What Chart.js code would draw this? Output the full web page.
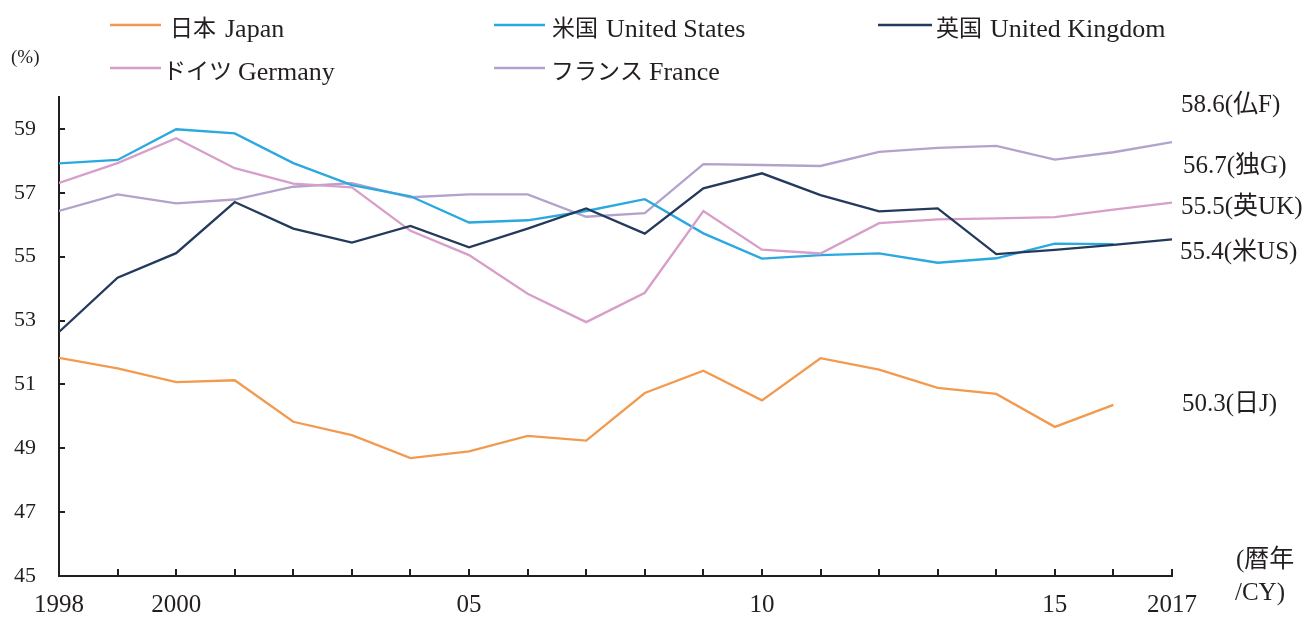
<!DOCTYPE html>
<html><head><meta charset="utf-8">
<script src="https://cdn.jsdelivr.net/npm/chart.js@4/dist/chart.umd.min.js"></script>
<style>html,body{margin:0;padding:0;background:#fff}#wrap{width:1312px;height:619px;position:relative}canvas{display:block}</style>
</head><body><div id="wrap"><canvas id="c"></canvas></div>
<script>
const years = [1998,1999,2000,2001,2002,2003,2004,2005,2006,2007,2008,2009,2010,2011,2012,2013,2014,2015,2016,2017];
const japan = [51.83,51.50,51.07,51.13,49.83,49.41,48.69,48.90,49.39,49.24,50.73,51.43,50.50,51.82,51.46,50.89,50.70,49.67,50.36,null];
const unitedStates = [57.92,58.03,58.99,58.86,57.93,57.24,56.89,56.07,56.14,56.43,56.80,55.73,54.94,55.05,55.10,54.81,54.95,55.41,55.39,null];
const unitedKingdom = [52.64,54.34,55.11,56.71,55.88,55.44,55.96,55.29,55.88,56.51,55.72,57.14,57.61,56.93,56.42,56.51,55.08,55.21,55.37,55.54];
const germany = [57.31,57.93,58.71,57.77,57.29,57.17,55.81,55.05,53.84,52.95,53.87,56.43,55.22,55.10,56.05,56.17,56.20,56.24,56.47,56.69];
const france = [56.43,56.95,56.67,56.79,57.19,57.30,56.86,56.95,56.95,56.25,56.36,57.90,57.87,57.84,58.28,58.41,58.47,58.04,58.27,58.59];
const seriesNames = ['日本 Japan','米国 United States','英国 United Kingdom','ドイツ Germany','フランス France'];
const yTicks = [45,47,49,51,53,55,57,59];
const xLabelYears = [1998,2000,2005,2010,2015,2017];
const xLabelTexts = ['1998','2000','05','10','15','2017'];
const endLabels = ['58.6(仏F)','56.7(独G)','55.5(英UK)','55.4(米US)','50.3(日J)'];
const unitText = '(%)';
const xUnitLines = ['(暦年','/CY)'];

const FONT = "'Liberation Serif','Noto Sans CJK JP',serif";
const CJK = "'Noto Sans CJK JP',sans-serif";
const INK = '#231f20';
const colors = ['#f29a4f','#2aa8e0','#243a5c','#d79ec9','#b3a3cc'];
const seriesData = [japan, unitedStates, unitedKingdom, germany, france];
const orders = [1,3,0,2,4];

const datasets = seriesData.map((arr,i)=>({
  label: seriesNames[i],
  data: years.map((y,j)=>({x:y, y:arr[j]})),
  borderColor: colors[i],
  backgroundColor: colors[i],
  borderWidth: 2.3,
  pointRadius: 0,
  tension: 0,
  spanGaps: false,
  order: orders[i]
}));

const overlay = {
  id:'overlay',
  afterDraw(chart){
    const ctx = chart.ctx;
    const xs = chart.scales.x, ys = chart.scales.y;
    ctx.save();
    // inward tick marks
    ctx.strokeStyle = INK; ctx.lineWidth = 2;
    years.forEach(y=>{
      if (y===years[0]) return;
      const px = Math.round(xs.getPixelForValue(y));
      ctx.beginPath(); ctx.moveTo(px, ys.bottom); ctx.lineTo(px, ys.bottom-7); ctx.stroke();
    });
    yTicks.forEach(v=>{
      const py = Math.round(ys.getPixelForValue(v));
      ctx.beginPath(); ctx.moveTo(xs.left, py); ctx.lineTo(xs.left+6, py); ctx.stroke();
    });
    // legend
    const legPos = [[110,25],[494,25],[878,25],[110,68],[494,68]];
    const lineLen = [51,51,54,51,51];
    const textStart = [170,552,936,163,551];
    const gaps = [9,8,8,6,6];
    ctx.textAlign = 'left'; ctx.textBaseline = 'alphabetic';
    chart.data.datasets.forEach((ds,i)=>{
      const [lx,ly] = legPos[i];
      ctx.strokeStyle = ds.borderColor; ctx.lineWidth = 2.5;
      ctx.beginPath(); ctx.moveTo(lx, ly); ctx.lineTo(lx+lineLen[i], ly); ctx.stroke();
      ctx.fillStyle = INK;
      const sp = ds.label.indexOf(' ');
      const jp = ds.label.slice(0, sp), en = ds.label.slice(sp+1);
      const base = ly + 11.5;
      ctx.font = "23px " + CJK;
      ctx.fillText(jp, textStart[i], base - 1);
      const w = ctx.measureText(jp).width;
      ctx.font = "26px 'Liberation Serif',serif";
      ctx.fillText(en, textStart[i] + w + gaps[i], base);
    });
    // unit
    ctx.textBaseline = 'middle';
    ctx.font = "19px " + FONT;
    ctx.fillText(unitText, 11, 58);
    // end labels
    ctx.font = "25px " + FONT;
    const endPos = [[1181,105],[1183,166],[1181,207],[1180,252],[1182,404]];
    endLabels.forEach((t,i)=>ctx.fillText(t, endPos[i][0], endPos[i][1]));
    ctx.fillText(xUnitLines[0], 1236, 560);
    ctx.fillText(xUnitLines[1], 1235, 593);
    ctx.restore();
  }
};

new Chart(document.getElementById('c'), {
  type:'line',
  data:{datasets},
  options:{
    responsive:true, maintainAspectRatio:false, animation:false,
    layout:{padding:{left:0,right:140,top:97,bottom:0}},
    plugins:{legend:{display:false}, tooltip:{enabled:false}},
    scales:{
      x:{
        type:'linear', min:years[0], max:years[years.length-1],
        afterBuildTicks:s=>{ s.ticks = xLabelYears.map(v=>({value:v})); },
        afterFit:s=>{ s.height = 43; },
        grid:{display:false, drawTicks:false},
        border:{display:true, color:INK, width:2},
        ticks:{autoSkip:false, maxRotation:0, padding:14, color:INK,
          font:{family:FONT, size:25},
          callback:(v)=>{ const k = xLabelYears.indexOf(v); return k>=0 ? xLabelTexts[k] : ''; }}
      },
      y:{
        type:'linear', min:45, max:60,
        afterBuildTicks:s=>{ s.ticks = yTicks.map(v=>({value:v})); },
        afterFit:s=>{ s.width = 59; },
        grid:{display:false, drawTicks:false},
        border:{display:true, color:INK, width:2},
        ticks:{padding:23, color:INK, font:{family:FONT, size:22}}
      }
    }
  },
  plugins:[overlay]
});
</script>
</body></html>
